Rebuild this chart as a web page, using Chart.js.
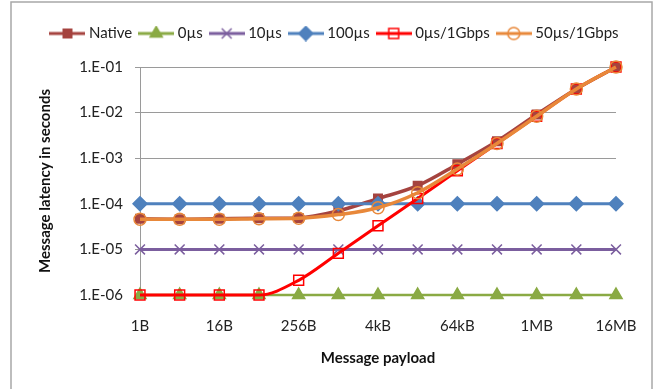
<!DOCTYPE html>
<html>
<head>
<meta charset="utf-8">
<script src="https://cdn.jsdelivr.net/npm/chart.js@4.4.1/dist/chart.umd.min.js"></script>
<style>
  html, body { margin: 0; padding: 0; background: #fff; }
  #wrap { width: 659px; height: 389px; position: relative; }
</style>
</head>
<body>
<div id="wrap"><canvas id="myChart"></canvas></div>
<script>
var xValues = ["1B", "4B", "16B", "64B", "256B", "1kB", "4kB", "16kB", "64kB", "256kB", "1MB", "4MB", "16MB"];
var xShown = ["1B", "16B", "256B", "4kB", "64kB", "1MB", "16MB"];

var nativeVals = [4.7e-5, 4.6e-5, 4.7e-5, 4.8e-5, 4.9e-5, 7.0e-5, 1.3e-4, 2.5e-4, 7.4e-4, 2.35e-3, 9.1e-3, 3.3e-2, 1.0e-1];
var us0Vals = [1e-6, 1e-6, 1e-6, 1e-6, 1e-6, 1e-6, 1e-6, 1e-6, 1e-6, 1e-6, 1e-6, 1e-6, 1e-6];
var us10Vals = [1e-5, 1e-5, 1e-5, 1e-5, 1e-5, 1e-5, 1e-5, 1e-5, 1e-5, 1e-5, 1e-5, 1e-5, 1e-5];
var us100Vals = [1e-4, 1e-4, 1e-4, 1e-4, 1e-4, 1e-4, 1e-4, 1e-4, 1e-4, 1e-4, 1e-4, 1e-4, 1e-4];
var us0GbpsVals = [1e-6, 1e-6, 1e-6, 1e-6, 2.1e-6, 8.2e-6, 3.3e-5, 1.3e-4, 5.3e-4, 2.1e-3, 8.3e-3, 3.3e-2, 1.0e-1];
var us50GbpsVals = [4.6e-5, 4.6e-5, 4.6e-5, 4.7e-5, 4.8e-5, 5.8e-5, 8.2e-5, 1.75e-4, 5.8e-4, 2.1e-3, 8.3e-3, 3.3e-2, 1.0e-1];

var yTicks = [1e-6, 1e-5, 1e-4, 1e-3, 1e-2, 1e-1];

var font = "Lato, 'Liberation Sans', sans-serif";

function series(label, data, color, style, radius, fill, order, curved, lineW) {
  return {
    label: label,
    data: data,
    borderColor: color,
    backgroundColor: fill,
    borderWidth: lineW,
    pointStyle: style,
    pointRadius: radius,
    pointHoverRadius: radius,
    pointBorderColor: color,
    pointBackgroundColor: fill,
    pointBorderWidth: 1.5,
    cubicInterpolationMode: curved ? "monotone" : "default",
    order: order,
    clip: 8
  };
}

// legend sample: a short line with the marker in the middle (like Excel)
function legendSample(ds) {
  var c = document.createElement("canvas");
  c.width = 36;
  c.height = 16;
  var ctx = c.getContext("2d");
  ctx.strokeStyle = ds.borderColor;
  ctx.lineWidth = 3;
  ctx.beginPath();
  ctx.moveTo(0, 8);
  ctx.lineTo(36, 8);
  ctx.stroke();
  ctx.fillStyle = ds.pointBackgroundColor;
  ctx.strokeStyle = ds.pointBorderColor;
  ctx.lineWidth = ds.pointBorderWidth;
  Chart.helpers.drawPoint(ctx, { pointStyle: ds.pointStyle, radius: ds.pointRadius, rotation: 0, borderWidth: ds.pointBorderWidth }, 18, 8);
  return c;
}

var frame = {
  id: "frame",
  beforeLayout: function (chart) {
    // leave a gap under the legend
    var lg = chart.legend;
    if (lg && !lg._gap) {
      var fit = lg.fit;
      lg.fit = function () { fit.call(this); this.height += 16; };
      lg._gap = true;
    }
  },
  afterLayout: function (chart) {
    // legend sits a bit right of the plot centre in the original
    var lg = chart.legend;
    if (lg) { lg.left += 22; lg.right += 22; }
  },
  beforeDraw: function (chart) {
    var ctx = chart.ctx;
    ctx.save();
    ctx.strokeStyle = "#a8a8a8";
    ctx.lineWidth = 1.5;
    ctx.strokeRect(11, 2, 641, 400);
    ctx.restore();
  }
};

new Chart("myChart", {
  type: "line",
  data: {
    labels: xValues,
    datasets: [
      series("Native", nativeVals, "#A5433F", "rect", 6, "#A5433F", 6, true, 3.5),
      series("0µs", us0Vals, "#8AAA44", "triangle", 7, "#8AAA44", 5, false, 2.5),
      series("10µs", us10Vals, "#7B5E9E", "crossRot", 7, "#7B5E9E", 4, false, 3),
      series("100µs", us100Vals, "#4F81BD", "rectRot", 7, "#4F81BD", 3, false, 3),
      series("0µs/1Gbps", us0GbpsVals, "#FF0000", "rect", 7, "rgba(255,255,255,0)", 2, true, 3),
      series("50µs/1Gbps", us50GbpsVals, "#E8883A", "circle", 6, "rgba(255,255,255,0)", 1, true, 3.5)
    ]
  },
  plugins: [frame],
  options: {
    responsive: true,
    maintainAspectRatio: false,
    animation: false,
    layout: { padding: { left: 12, right: 43, top: 16, bottom: 22 } },
    plugins: {
      tooltip: { enabled: false },
      legend: {
        position: "top",
        labels: {
          usePointStyle: true,
          pointStyleWidth: 28,
          padding: 10,
          color: "#222",
          font: { family: font, size: 15 },
          generateLabels: function (chart) {
            return chart.data.datasets.map(function (ds, i) {
              return {
                text: ds.label,
                pointStyle: legendSample(ds),
                fillStyle: ds.borderColor,
                strokeStyle: ds.borderColor,
                lineWidth: 0,
                hidden: false,
                datasetIndex: i,
                fontColor: "#222"
              };
            });
          }
        }
      }
    },
    scales: {
      x: {
        offset: false,
        grid: { display: false },
        border: { display: true, color: "#9a9a9a" },
        ticks: {
          autoSkip: false,
          maxRotation: 0,
          padding: 14,
          color: "#222",
          font: { family: font, size: 15 },
          callback: function (v, i) {
            var lab = xValues[i];
            return xShown.indexOf(lab) >= 0 ? lab : "";
          }
        },
        title: {
          display: true,
          text: "Message payload",
          color: "#111",
          font: { family: font, size: 15, weight: "bold" },
          padding: { top: 0, bottom: 0 }
        },
        afterFit: function (s) { s.height = 72; }
      },
      y: {
        type: "logarithmic",
        min: 1e-6,
        max: 1e-1,
        afterBuildTicks: function (s) {
          s.ticks = yTicks.map(function (v) { return { value: v }; });
        },
        grid: { color: "#9a9a9a", tickLength: 5, drawTicks: true },
        border: { display: true, color: "#9a9a9a" },
        ticks: {
          padding: 12,
          color: "#222",
          font: { family: font, size: 15 },
          callback: function (v) {
            var e = Math.round(Math.log10(v));
            return "1.E" + (e < 0 ? "-" : "+") + String(Math.abs(e)).padStart(2, "0");
          }
        },
        title: {
          display: true,
          text: "Message latency in seconds",
          color: "#111",
          font: { family: font, size: 15, weight: "bold" },
          padding: { top: 24, bottom: 0 }
        },
        afterFit: function (s) { s.width = 128; }
      }
    }
  }
});
</script>
</body>
</html>
